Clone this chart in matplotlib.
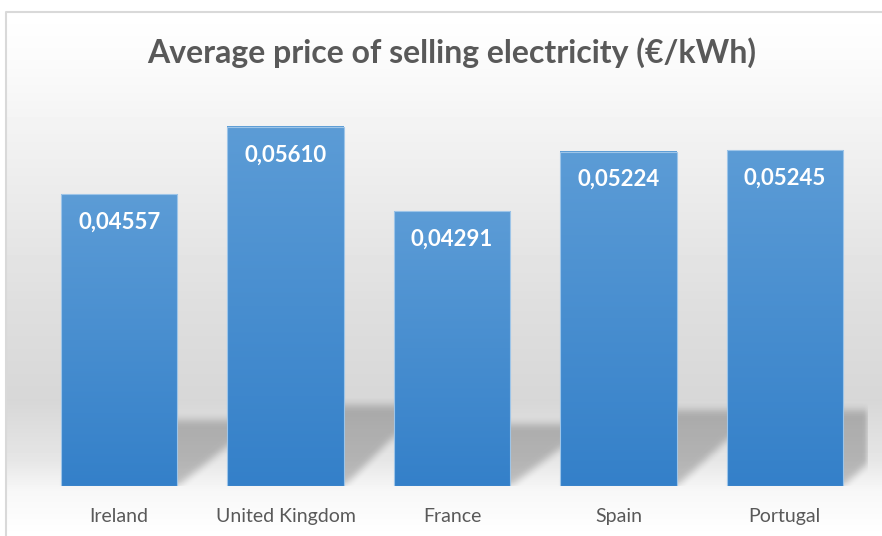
import matplotlib.pyplot as plt
import numpy as np

# data
countries = ['Ireland', 'United Kingdom', 'France', 'Spain', 'Portugal']
prices = [0.04557, 0.05610, 0.04291, 0.05224, 0.05245]
price_labels = ['0,04557', '0,05610', '0,04291', '0,05224', '0,05245']
title = 'Average price of selling electricity (€/kWh)'

FONT = ['Lato', 'DejaVu Sans']
W, H = 882, 536
fig = plt.figure(figsize=(W / 100, H / 100), dpi=100)

# background: soft vertical gradient inside a light border
bg = fig.add_axes([0, 0, 1, 1])
bg.axis('off')
col = np.interp(np.arange(H), [11, 60, 150, 300, 400, 460, 490, 536],
                [255, 251, 240, 223, 215, 230, 247, 255])
img = np.repeat(col[:, None], W, axis=1)
img[:11, :] = 255
img[:, :5] = 255
bg.imshow(img, cmap='gray', vmin=0, vmax=255, extent=(0, W, H, 0), aspect='auto')
bg.plot([5.5, 5.5, W], [H, 11.5, 11.5], color='#d9d9d9', lw=1.5)
bg.set_xlim(0, W)
bg.set_ylim(H, 0)

ax = fig.add_axes([36 / W, 50 / H, 832 / W, 384 / H])
ax.patch.set_alpha(0)
x = np.arange(len(countries))
ymax = 0.06
width = 0.7

# perspective shadows cast to the right of each bar
nx, ny = 832, 384
gx = -0.5 + (np.arange(nx) + 0.5) / nx * 5
gy = (np.arange(ny) + 0.5) / ny * ymax
XX, YY = np.meshgrid(gx, gy)
mask = np.zeros_like(XX)
k, dx = 0.226, 0.5
for xc, h in zip(x, prices):
    sh = k * h
    t = YY / sh
    inside = (YY <= sh) & (XX >= xc - width / 2 + dx * t) & (XX <= xc + width / 2 + dx * t)
    mask[inside] = 1


def smooth(a, r, axis):
    kern = np.ones(2 * r + 1) / (2 * r + 1)
    return np.apply_along_axis(lambda m: np.convolve(m, kern, mode='same'), axis, a)


for _ in range(2):
    mask = smooth(smooth(mask, 4, 0), 3, 1)
shadow = np.zeros((ny, nx, 4))
shadow[..., 3] = mask * 0.22
ax.imshow(shadow, extent=(-0.5, 4.5, 0, ymax), origin='lower', aspect='auto', zorder=1)

# bars with a top-to-bottom blue gradient
bars = ax.bar(x, prices, width=width, color='none', edgecolor='#9ec5e8', lw=0.8, zorder=4)
top = np.array([92, 156, 214]) / 255
bot = np.array([52, 128, 201]) / 255
grad = np.linspace(top, bot, 256)[:, None, :]
for b in bars:
    ax.imshow(grad, extent=(b.get_x(), b.get_x() + b.get_width(), 0, b.get_height()),
              aspect='auto', zorder=3)

for b, lbl in zip(bars, price_labels):
    ax.annotate(lbl, (b.get_x() + b.get_width() / 2, b.get_height()), xytext=(0, -20),
                textcoords='offset points', ha='center', va='center', color='white',
                fontsize=16, fontweight='bold', family=FONT, zorder=5)

ax.set_xlim(-0.5, 4.5)
ax.set_ylim(0, ymax)
ax.set_xticks(x)
ax.set_xticklabels(countries, fontsize=14, color='#595959', family=FONT)
ax.tick_params(axis='x', length=0, pad=16)
ax.set_yticks([])
for s in ax.spines.values():
    s.set_visible(False)

fig.text(452 / W, 1 - 53 / H, title, ha='center', va='center', fontsize=23,
         fontweight='bold', color='#595959', family=FONT)

fig.savefig('out.png', dpi=100)
